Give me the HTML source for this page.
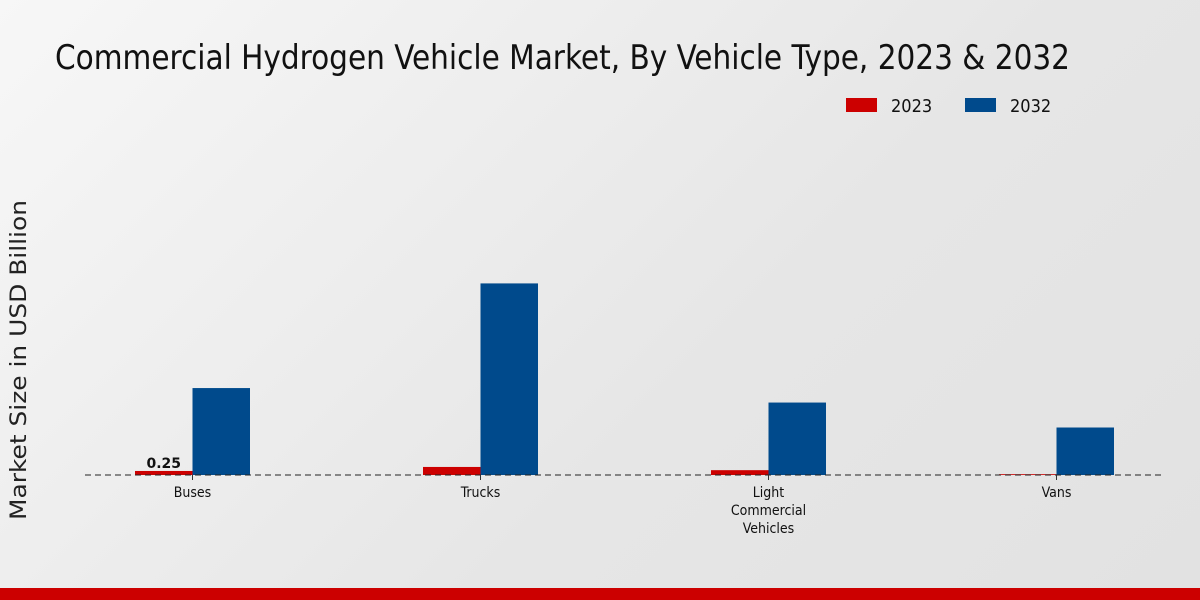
<!DOCTYPE html>
<html><head><meta charset="utf-8"><style>
body{margin:0;width:1200px;height:600px;overflow:hidden;background:linear-gradient(135deg,#f7f7f7 0%,#e6e6e6 60%,#e2e2e2 100%);font-family:"DejaVu Sans Condensed","DejaVu Sans","Liberation Sans",sans-serif;}
svg{position:absolute;left:0;top:0}
</style></head><body>
<svg width="1200" height="600" id="c">
<text x="55" y="69" font-size="34" textLength="1015" lengthAdjust="spacingAndGlyphs" fill="#111" font-family="DejaVu Sans Condensed, DejaVu Sans, sans-serif">Commercial Hydrogen Vehicle Market, By Vehicle Type, 2023 &amp; 2032</text>
<g>
<rect x="846" y="98" width="31" height="14" fill="#cc0000"/>
<text x="891" y="112" font-size="18" fill="#111">2023</text>
<rect x="965" y="98" width="31" height="14" fill="#004a8c"/>
<text x="1010" y="112" font-size="18" fill="#111">2032</text>
</g>
<text transform="translate(26,360) rotate(-90)" text-anchor="middle" font-size="22" textLength="320" lengthAdjust="spacingAndGlyphs" font-family="DejaVu Sans, sans-serif" fill="#222">Market Size in USD Billion</text>
<g id="bars"></g>
<line x1="85" y1="475" x2="1162" y2="475" stroke="#222" stroke-dasharray="6,4" stroke-width="1"/>
<g id="labels"></g>
<rect x="0" y="588" width="1200" height="12" fill="#cc0000"/>
</svg>
<script>
const categories=[["Buses"],["Trucks"],["Light","Commercial","Vehicles"],["Vans"]];
const values2023=[0.25,0.5,0.3,0.05];
const values2032=[5.4,11.9,4.5,2.95];
const shownLabels=["0.25",null,null,null];
const NS="http://www.w3.org/2000/svg";
const base=475, scale=16.1, x0=192.5, step=288, bw=57.5;
const yOf=v=>base-v*scale;
const xOf=i=>x0+i*step;
const bars=document.getElementById('bars'), labels=document.getElementById('labels');
function mk(t,a,p){const e=document.createElementNS(NS,t);for(const k in a)e.setAttribute(k,a[k]);p.appendChild(e);return e;}
categories.forEach((c,i)=>{
  const cx=xOf(i);
  const r1=mk('rect',{x:cx-bw,y:yOf(values2023[i]),width:bw,height:base-yOf(values2023[i]),fill:'#cc0000'},bars);
  
  
  const r2=mk('rect',{x:cx,y:yOf(values2032[i]),width:bw,height:base-yOf(values2032[i]),fill:'#004a8c'},bars);
  
  
  if(shownLabels[i]){
    const t=mk('text',{x:cx-bw/2,y:yOf(values2023[i])-3,'text-anchor':'middle','font-size':14,'font-weight':'bold','font-family':'DejaVu Sans, sans-serif',fill:'#111'},labels);
    t.textContent=shownLabels[i];
    
    
  }
  const tk=mk('line',{x1:cx,y1:475,x2:cx,y2:480,stroke:'#333'},labels);
  
  
  c.forEach((w,j)=>{
    const t=mk('text',{x:cx,y:497+j*18,'text-anchor':'middle','font-size':14,fill:'#111'},labels);
    t.textContent=w;
    
    
  });
});
</script>
</body></html>
